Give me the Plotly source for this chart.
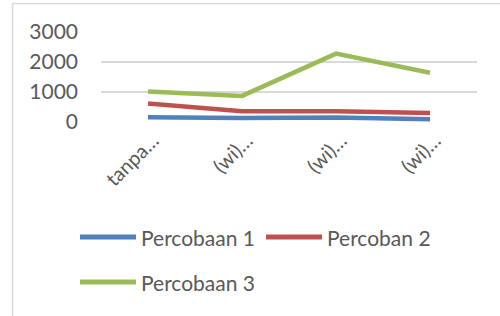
import plotly.graph_objects as go

categories = ["tanpa…", "(wi)…", "(wi)…", "(wi)…"]
series_names = ["Percobaan 1", "Percoban 2", "Percobaan 3"]
percobaan_1 = [160, 130, 150, 95]
percoban_2 = [620, 360, 360, 300]
percobaan_3 = [1020, 870, 2280, 1640]
y_ticks = [0, 1000, 2000, 3000]

colors = ["#4F81BD", "#C0504D", "#9BBB59"]
FONT = "Lato"
TXT = "#595959"

W, H = 500, 316
L, R, T, B = 101, 23, 32, 194
pw, ph = W - L - R, H - T - B

def px(x):
    return (x - L) / pw

def py(y):
    return (H - B - y) / ph

xs = list(range(len(categories)))
fig = go.Figure()
for name, vals, c in zip(series_names, [percobaan_1, percoban_2, percobaan_3], colors):
    fig.add_trace(go.Scatter(x=xs, y=vals, mode="lines", name=name,
                             line=dict(color=c, width=4.5), showlegend=False))

shapes = []
annotations = []
# chart frame
shapes.append(dict(type="line", xref="paper", yref="paper", x0=px(12.5), x1=px(500), y0=py(3.5), y1=py(3.5),
                   line=dict(color="#D9D9D9", width=1.5)))
shapes.append(dict(type="line", xref="paper", yref="paper", x0=px(12.5), x1=px(12.5), y0=py(3.5), y1=py(316),
                   line=dict(color="#D9D9D9", width=1.5)))
# manual legend
legend_items = [(80, 237, 0), (266, 237, 1), (80, 282, 2)]
for lx, ly, i in legend_items:
    shapes.append(dict(type="line", xref="paper", yref="paper", x0=px(lx), x1=px(lx + 56), y0=py(ly), y1=py(ly),
                       line=dict(color=colors[i], width=5)))
    annotations.append(dict(xref="paper", yref="paper", x=px(lx + 59), y=py(ly), text=series_names[i],
                            showarrow=False, xanchor="left", yanchor="middle",
                            font=dict(family=FONT, size=21, color=TXT)))

fig.update_layout(
    width=W, height=H, margin=dict(l=L, r=R, t=T, b=B),
    paper_bgcolor="white", plot_bgcolor="white",
    shapes=shapes, annotations=annotations,
    xaxis=dict(range=[-0.5, 3.5], tickvals=xs, ticktext=categories, tickangle=-45,
               showgrid=False, zeroline=False, showline=False, ticks="",
               ticklabelshift=5, ticklabelstandoff=2,
               tickfont=dict(family=FONT, size=20, color=TXT)),
    yaxis=dict(range=[0, 3000], tickvals=y_ticks, showgrid=True, gridcolor="#D9D9D9", gridwidth=1.5,
               zeroline=False, showline=False, ticks="", ticklabelstandoff=22,
               tickfont=dict(family=FONT, size=21, color=TXT)),
)
fig.write_html("out.html", config={"displayModeBar": False},
               post_script="document.body.style.margin='0';document.body.style.overflow='hidden';")
